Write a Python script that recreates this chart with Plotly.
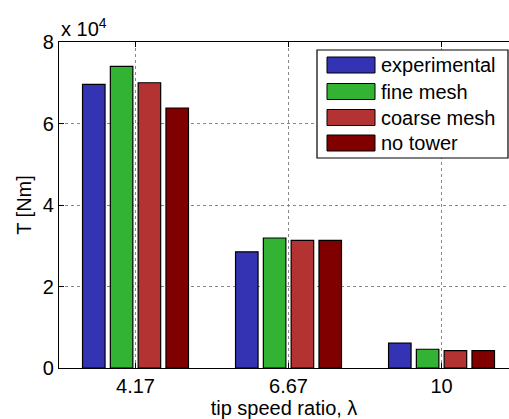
import plotly.graph_objects as go

# Torque at each tip speed ratio
categories = ["4.17", "6.67", "10"]
series_names = ["experimental", "fine mesh", "coarse mesh", "no tower"]
experimental = [69600, 28500, 6100]
fine_mesh = [74000, 31900, 4600]
coarse_mesh = [70000, 31300, 4250]
no_tower = [63800, 31300, 4250]
series_colors = ["#3333b3", "#33b333", "#b33333", "#800000"]
y_tick_vals = [0, 20000, 40000, 60000, 80000]
y_tick_text = ["0", "2", "4", "6", "8"]

W, H = 509, 419
ML, MT, MB, MR = 59, 42, 51, 0
FONT = "Liberation Sans, Arial, Helvetica, sans-serif"
FS = 20

fig = go.Figure()
for name, vals, col in zip(series_names, [experimental, fine_mesh, coarse_mesh, no_tower], series_colors):
    fig.add_trace(go.Bar(
        x=categories, y=vals, name=name,
        marker=dict(color=col, line=dict(color="black", width=1.2)),
        showlegend=False,
    ))

fig.update_layout(
    width=W, height=H,
    margin=dict(l=ML, r=MR, t=MT, b=MB),
    paper_bgcolor="white", plot_bgcolor="white",
    barmode="group", bargap=0.273, bargroupgap=0.19,
    font=dict(family=FONT, size=FS, color="black"),
)
fig.update_xaxes(
    type="category", range=[-0.5, 2.441],
    showline=True, linecolor="black", linewidth=1.2, mirror="ticks",
    ticks="inside", ticklen=5, tickcolor="black",
    showgrid=True, gridcolor="#888888", griddash="dot", gridwidth=1,
    title=dict(text="tip speed ratio, λ", standoff=2, font=dict(size=FS)),
    tickfont=dict(size=FS),
)
fig.update_yaxes(
    range=[0, 80000], tickvals=y_tick_vals, ticktext=y_tick_text,
    showline=True, linecolor="black", linewidth=1.2, mirror=False,
    ticks="inside", ticklen=5, tickcolor="black",
    showgrid=True, gridcolor="#888888", griddash="dot", gridwidth=1,
    zeroline=False,
    title=dict(text="T [Nm]", standoff=5, font=dict(size=FS)),
    tickfont=dict(size=FS),
)

# exponent label above the y axis
fig.add_annotation(
    xref="paper", yref="paper", x=0, y=1, xanchor="left", yanchor="bottom",
    yshift=0, text="x 10<sup>4</sup>", showarrow=False, font=dict(size=FS),
)

# legend box with wide colour swatches
pw = W - ML - MR
ph = H - MT - MB
def px_x(x):
    return (x - ML) / pw
def px_y(y):
    return 1 - (y - MT) / ph

fig.add_shape(type="rect", xref="paper", yref="paper",
              x0=px_x(317), x1=px_x(508), y0=px_y(158), y1=px_y(50),
              line=dict(color="black", width=1.2), fillcolor="white", layer="above")
row_y = [65, 91.5, 117.5, 143]
for name, col, ry in zip(series_names, series_colors, row_y):
    fig.add_shape(type="rect", xref="paper", yref="paper",
                  x0=px_x(327), x1=px_x(375), y0=px_y(ry + 8), y1=px_y(ry - 8),
                  line=dict(color="black", width=1), fillcolor=col, layer="above")
    fig.add_annotation(xref="paper", yref="paper", x=px_x(379), y=px_y(ry),
                       xanchor="left", yanchor="middle", text=name,
                       showarrow=False, font=dict(size=FS))

fig.write_html("out.html")
